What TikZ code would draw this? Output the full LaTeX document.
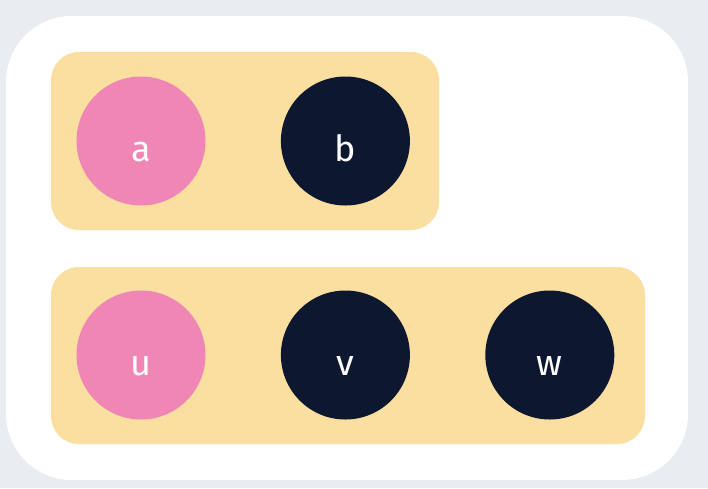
\documentclass[tikz,border=0pt]{standalone}
\usepackage{fontspec}
\setmainfont{Fira Sans}
\usetikzlibrary{positioning}
\definecolor{fond}{HTML}{E9ECF1}
\definecolor{rose}{HTML}{EF86B5}
\definecolor{jaune}{HTML}{FADFA0}
\definecolor{nuit}{HTML}{0D172F}
\begin{document}
\begin{tikzpicture}[x=1pt,y=-1pt]
% définition des paramètres
\tikzstyle cadre=[fill=white,rounded corners=66pt]
\tikzstyle groupe=[fill=jaune,rounded corners=28pt]
\tikzstyle sommet=[circle,minimum size=129pt,inner sep=0pt,text=white,
  font=\fontsize{36}{40}\selectfont,text height=40pt,text depth=0pt]
\tikzstyle sommetrose=[sommet,fill=rose]
\tikzstyle sommetnuit=[sommet,fill=nuit]
% le fond
\fill[fond] (0,0) rectangle (708,488);
\useasboundingbox (0,0) rectangle (708,488);
\fill[cadre] (6,16) rectangle (688,480);
% les groupes
\fill[groupe] (51,52) rectangle (439,230);
\fill[groupe] (51,267) rectangle (645,444);
% les sommets
\node[sommetrose] (a) at (141,141) {a};
\node[sommetnuit, right=75pt of a] (b) {b};
\node[sommetrose] (u) at (141,355) {u};
\node[sommetnuit, right=75pt of u] (v) {v};
\node[sommetnuit, right=75pt of v] (w) {w};
\end{tikzpicture}
\end{document}
